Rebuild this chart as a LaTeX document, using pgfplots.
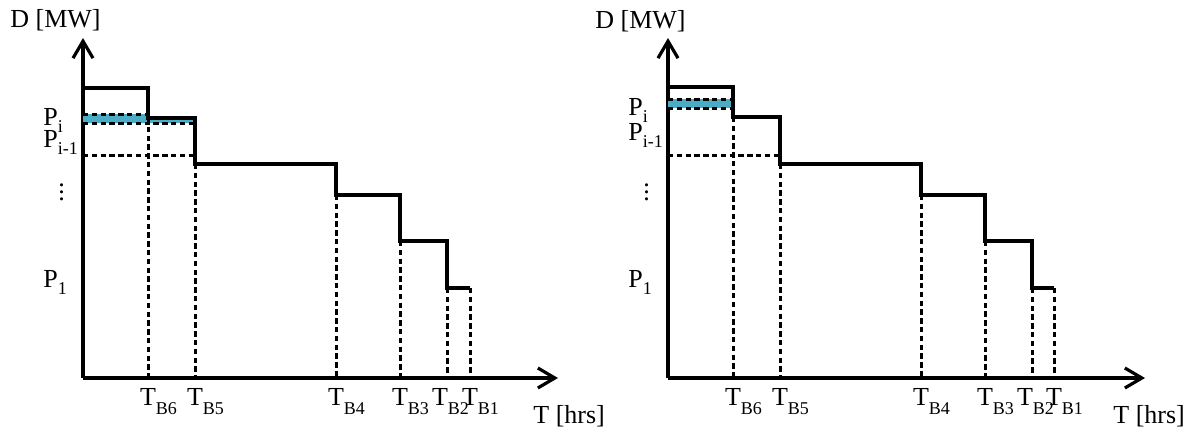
\documentclass[border=0pt]{standalone}
\usepackage{fontspec}
\setmainfont{Liberation Serif}
\usepackage{pgfplots}
\pgfplotsset{compat=1.18}
\usetikzlibrary{arrows.meta}
\definecolor{aqua}{HTML}{4BACC6}

\newcommand{\Tsub}[1]{T\rlap{\raisebox{-4.8pt}{\fontsize{9}{9}\selectfont #1}}}
\newcommand{\Tsubx}[2]{\hspace*{#2}\Tsub{#1}\hspace*{-#2}}
\newcommand{\Psub}[1]{P\raisebox{-3.6pt}{\fontsize{9}{9}\selectfont #1}}
\newcommand{\vd}{\hspace*{7.5pt}\vbox{\baselineskip3.5pt\lineskiplimit0pt\hbox{.}\hbox{.}\hbox{.}}}

\pgfplotsset{
  ldc/.style={
    scale only axis, height=170pt,
    xmin=0, ymin=0, ymax=340,
    axis lines=left,
    axis line style={line width=1.6pt, -{Straight Barb[length=8.5pt,width=10pt,line width=1.6pt]}},
    major tick length=0pt,
    clip=false,
    anchor=south west,
    xtick={65,112,253,317,364,387},
    xticklabels={\Tsub{B6},\Tsub{B5},\Tsub{B4},\Tsub{B3},\Tsubx{B2}{-3.5pt},\Tsub{B1}},
    xticklabel style={anchor=base, inner sep=0pt, yshift=-13.5pt, font=\fontsize{13}{13}\selectfont},
    yticklabel style={anchor=base west, inner sep=0pt, xshift=-20pt, font=\fontsize{13}{13}\selectfont},
  },
  dsh/.style={line width=1.5pt, dash pattern=on 2.7pt off 1.7pt},
  stp/.style={line width=1.7pt, line join=miter},
}

\begin{document}
\begin{tikzpicture}
\path[use as bounding box] (0pt,0pt) rectangle (599.5pt,-214.5pt);

% ---------------- left chart ----------------
\begin{axis}[ldc, at={(41.5pt,-189pt)}, width=237.5pt, xmax=475,
  ytick={91,178,231,253},
  yticklabels={\Psub{1},\vd,\Psub{i-1},\Psub{i}}]
\addplot[fill=aqua, draw=none] coordinates {(0,255) (0,264) (65,264) (65,260) (112,260) (112,255)};
\addplot[dsh] coordinates {(0,264) (65,264)};
\addplot[dsh] coordinates {(0,255) (112,255)};
\addplot[dsh] coordinates {(0,223) (112,223)};
\addplot[dsh] coordinates {(65,260) (65,0)};
\addplot[dsh] coordinates {(112,214) (112,0)};
\addplot[dsh] coordinates {(253,183) (253,0)};
\addplot[dsh] coordinates {(317,137) (317,0)};
\addplot[dsh] coordinates {(364,90) (364,0)};
\addplot[dsh] coordinates {(387,90) (387,0)};
\addplot[stp] coordinates {(0,290) (65,290) (65,260) (112,260) (112,214) (253,214) (253,183) (317,183) (317,137) (364,137) (364,90) (387,90)};
\end{axis}

% ---------------- right chart ----------------
\begin{axis}[ldc, at={(334pt,-189pt)}, width=238.5pt, xmax=477,
  xtick={65,112,253,317,364,386},
  ytick={91,178,238,263},
  yticklabels={\Psub{1},\vd,\Psub{i-1},\Psub{i}}]
\addplot[fill=aqua, draw=none] coordinates {(0,270) (0,279) (65,279) (65,270)};
\addplot[dsh] coordinates {(0,279) (65,279)};
\addplot[dsh] coordinates {(0,270) (65,270)};
\addplot[dsh] coordinates {(0,223) (112,223)};
\addplot[dsh] coordinates {(65,261) (65,0)};
\addplot[dsh] coordinates {(112,214) (112,0)};
\addplot[dsh] coordinates {(253,183) (253,0)};
\addplot[dsh] coordinates {(317,137) (317,0)};
\addplot[dsh] coordinates {(364,90) (364,0)};
\addplot[dsh] coordinates {(386,90) (386,0)};
\addplot[stp] coordinates {(0,291) (65,291) (65,261) (112,261) (112,214) (253,214) (253,183) (317,183) (317,137) (364,137) (364,90) (386,90)};
\end{axis}

\begin{scope}[every node/.style={inner sep=0pt, anchor=base west, font=\fontsize{13}{13}\selectfont}]
\node at (5pt,-13.5pt) {D [MW]};
\node at (297.5pt,-14pt) {D [MW]};
\node at (266.5pt,-211.5pt) {T [hrs]};
\node at (556.5pt,-211.5pt) {T [hrs]};
\end{scope}
\end{tikzpicture}
\end{document}
